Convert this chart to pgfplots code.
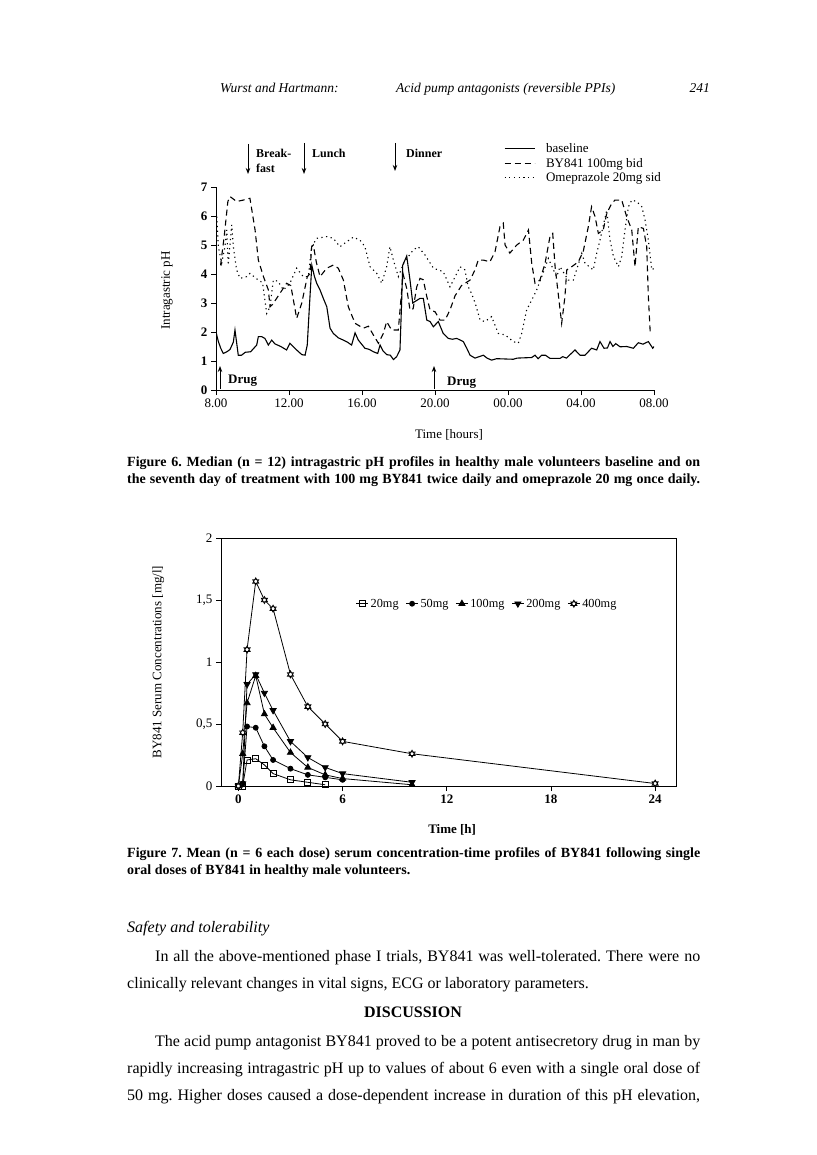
\documentclass[border=0pt]{standalone}
\usepackage{fontspec}
\setmainfont{Liberation Serif}
\usepackage{pgfplots}
\pgfplotsset{compat=1.18}
\usetikzlibrary{arrows.meta}
\frenchspacing

\pgfdeclareplotmark{hexagram}{%
  \pgfpathmoveto{\pgfqpointpolar{90}{\pgfplotmarksize}}%
  \pgfpathlineto{\pgfqpointpolar{210}{\pgfplotmarksize}}%
  \pgfpathlineto{\pgfqpointpolar{330}{\pgfplotmarksize}}%
  \pgfpathclose
  \pgfpathmoveto{\pgfqpointpolar{270}{\pgfplotmarksize}}%
  \pgfpathlineto{\pgfqpointpolar{30}{\pgfplotmarksize}}%
  \pgfpathlineto{\pgfqpointpolar{150}{\pgfplotmarksize}}%
  \pgfpathclose
  \pgfusepathqfillstroke}

\pgfplotstableread{
x y
8.0 2.0
8.13 1.67
8.26 1.44
8.4 1.26
8.6 1.32
8.77 1.4
8.95 1.65
9.04 2.07
9.22 1.2
9.4 1.2
9.6 1.3
9.9 1.32
10.23 1.55
10.32 1.84
10.5 1.84
10.68 1.78
10.87 1.55
11.05 1.72
11.23 1.59
11.55 1.5
11.87 1.38
12.05 1.61
12.42 1.38
12.7 1.22
12.88 1.2
13.0 1.55
13.12 2.9
13.25 4.3
13.4 3.9
13.52 3.68
13.7 3.45
13.88 3.16
14.07 2.87
14.25 2.13
14.43 1.95
14.7 1.8
14.98 1.72
15.2 1.65
15.43 1.55
15.62 1.97
15.8 1.72
16.16 1.44
16.4 1.4
16.62 1.32
16.86 1.26
16.99 1.55
17.15 1.35
17.35 1.22
17.55 1.2
17.72 1.05
17.9 1.15
18.08 1.38
18.17 3.0
18.23 4.3
18.45 4.62
18.63 3.79
18.78 3.0
18.9 3.05
19.18 3.16
19.36 3.16
19.55 2.41
19.73 2.36
19.91 2.18
20.18 2.36
20.45 1.95
20.73 1.78
20.95 1.75
21.19 1.78
21.55 1.67
21.74 1.44
21.92 1.2
22.19 1.1
22.65 1.2
22.85 1.1
23.1 1.03
23.38 1.08
24.29 1.06
24.5 1.1
25.3 1.12
25.48 1.2
25.65 1.08
25.85 1.2
26.05 1.2
26.3 1.09
26.85 1.09
27.0 1.15
27.2 1.1
27.67 1.38
27.95 1.2
28.22 1.2
28.58 1.44
28.86 1.38
29.04 1.67
29.26 1.44
29.45 1.45
29.59 1.67
29.75 1.5
29.9 1.6
30.14 1.49
30.5 1.5
30.87 1.44
31.14 1.63
31.4 1.58
31.69 1.67
31.93 1.44
32.0 1.5
}\baseline

\pgfplotstableread{
x y
8.25 4.3
8.45 5.3
8.65 6.5
8.77 6.67
9.13 6.5
9.5 6.55
9.86 6.61
10.14 5.52
10.32 4.48
10.6 3.91
10.87 3.45
10.96 2.87
11.1 2.95
11.5 3.33
11.87 3.68
12.1 3.6
12.42 2.47
12.7 3.0
13.0 3.9
13.15 4.02
13.24 4.94
13.33 5.0
13.5 4.4
13.7 3.91
14.07 4.2
14.43 4.31
14.7 4.2
14.98 3.79
15.25 2.87
15.62 2.3
16.07 2.13
16.35 2.2
16.62 1.9
16.9 1.61
17.17 1.95
17.35 2.36
17.62 2.07
17.99 2.07
18.25 4.0
18.45 3.5
18.63 2.76
18.8 2.8
19.0 3.56
19.18 3.85
19.36 3.8
19.55 3.22
19.73 2.76
20.0 2.7
20.27 2.41
20.55 2.41
20.82 2.76
21.1 3.25
21.45 3.6
21.92 3.79
22.19 4.14
22.37 4.48
22.65 4.48
23.01 4.42
23.29 4.77
23.56 5.63
23.74 5.75
23.84 5.0
24.1 4.72
24.48 5.0
24.84 5.17
25.12 5.52
25.3 4.37
25.48 3.68
25.75 3.79
26.03 4.37
26.3 5.29
26.45 5.4
26.58 4.25
26.77 3.22
26.94 2.3
27.12 3.22
27.22 4.14
27.49 4.25
27.85 4.42
28.12 4.77
28.4 5.63
28.58 6.32
28.77 5.98
28.95 5.4
29.22 5.52
29.41 6.09
29.68 6.43
29.86 6.55
30.23 6.55
30.5 5.98
30.78 5.52
30.96 4.25
31.14 5.63
31.42 5.57
31.6 4.94
31.69 3.22
31.8 1.9
}\byeight

\pgfplotstableread{
x y
8.04 5.98
8.13 4.94
8.31 4.37
8.49 4.94
8.59 5.52
8.67 4.31
8.86 5.69
8.95 4.94
9.13 4.14
9.32 3.85
9.68 3.91
9.86 4.02
10.32 3.79
10.55 3.7
10.78 2.64
10.96 2.87
11.14 3.79
11.4 3.75
11.69 3.45
12.05 3.68
12.42 4.2
12.78 3.91
13.06 3.91
13.24 4.94
13.52 5.23
14.07 5.29
14.43 5.23
14.79 4.94
15.16 5.11
15.52 5.27
15.89 5.17
16.16 4.94
16.44 4.25
16.81 4.02
17.08 3.68
17.35 4.25
17.53 4.94
17.72 4.48
17.99 3.91
18.3 4.4
18.81 4.83
19.08 4.94
19.45 4.66
19.91 4.2
20.45 4.08
20.82 3.56
21.1 3.9
21.37 4.25
21.64 4.14
21.82 3.56
22.0 3.33
22.2 3.0
22.47 2.41
22.74 2.36
23.1 2.53
23.47 1.95
23.84 1.9
24.29 1.67
24.56 1.61
24.75 1.95
25.02 2.76
25.3 3.1
25.57 3.45
25.85 3.91
26.21 4.54
26.49 4.14
26.67 3.91
26.85 4.25
27.3 3.79
27.58 3.79
28.04 4.71
28.22 4.37
28.67 4.14
28.86 4.71
29.04 5.17
29.41 6.2
29.59 5.17
29.78 4.6
30.05 4.25
30.23 4.6
30.41 5.52
30.6 6.32
30.78 6.55
31.05 6.5
31.33 6.32
31.51 5.86
31.69 5.17
31.88 4.14
32.0 4.2
}\omep

\pgfplotstableread{
t c
0 0
0.25 0
0.5 0.21
1 0.22
1.5 0.17
2 0.1
3 0.05
4 0.03
5 0.01
}\dA
\pgfplotstableread{
t c
0 0
0.25 0.02
0.5 0.48
1 0.47
1.5 0.32
2 0.21
3 0.14
4 0.09
5 0.07
6 0.05
}\dB
\pgfplotstableread{
t c
0 0
0.25 0.26
0.5 0.67
1 0.89
1.5 0.58
2 0.47
3 0.27
4 0.15
5 0.09
6 0.06
10 0.01
}\dC
\pgfplotstableread{
t c
0 0
0.25 0.02
0.5 0.82
1 0.9
1.5 0.75
2 0.61
3 0.36
4 0.23
5 0.15
6 0.1
10 0.03
}\dD
\pgfplotstableread{
t c
0 0
0.25 0.43
0.5 1.1
1 1.65
1.5 1.5
2 1.43
3 0.9
4 0.64
5 0.5
6 0.36
10 0.26
24 0.02
}\dE

\newcommand{\fs}[1]{\fontsize{#1}{#1}\selectfont}

\begin{document}
\begin{tikzpicture}
\fill[white] (0pt,0pt) rectangle (816pt,-1155pt);
\path[use as bounding box] (0pt,0pt) rectangle (816pt,-1155pt);

% running head
\node[anchor=base west, inner sep=0pt, font=\fs{13.5}\itshape] at (220pt,-93pt) {Wurst and Hartmann:};
\node[anchor=base west, inner sep=0pt, font=\fs{13.5}\itshape] at (396pt,-93pt) {Acid pump antagonists (reversible PPIs)};
\node[anchor=base east, inner sep=0pt, font=\fs{13.5}\itshape] at (710pt,-93pt) {241};

% ---------------- Figure 6 ----------------
\begin{axis}[
  at={(216pt,-390pt)}, anchor=south west,
  scale only axis, width=438pt, height=203pt,
  xmin=8, xmax=32, ymin=0, ymax=7,
  axis lines*=left,
  axis line style={line width=1pt},
  xtick={8,12,16,20,24,28,32},
  xticklabels={8.00,12.00,16.00,20.00,00.00,04.00,08.00},
  ytick={0,1,2,3,4,5,6,7},
  tick align=outside, major tick length=5pt,
  tick style={line width=0.8pt, black},
  /pgf/number format/assume math mode=true,
  xticklabel style={font=\fs{13}},
  yticklabel style={font=\fs{13}\bfseries},
  xlabel={Time [hours]},
  xlabel style={at={(axis description cs:0.532,-0.222)}, anchor=center, font=\fs{13}},
  ylabel={Intragastric pH},
  ylabel style={at={(axis description cs:-0.112,0.49)}, anchor=center, font=\fs{13}},
  legend style={at={(0.657,1.225)}, anchor=north west, draw=none, fill=none,
    font=\fs{13}, row sep=0pt, inner sep=0pt,
    /tikz/every odd column/.append style={column sep=9pt}},
  legend cell align=left,
  legend image code/.code={\draw[#1] (0pt,0pt) -- (30pt,0pt);},
]
\addplot[black, line width=1.1pt] table[x=x,y=y] {\baseline};
\addlegendentry{baseline}
\addplot[black, line width=1.1pt, dash pattern=on 6pt off 4pt] table[x=x,y=y] {\byeight};
\addlegendentry{BY841 100mg bid}
\addplot[black, line width=1.1pt, dash pattern=on 1.2pt off 3.5pt] table[x=x,y=y] {\omep};
\addlegendentry{Omeprazole 20mg sid}
\end{axis}

% meals
\draw[line width=0.9pt, -{Stealth[length=6pt,width=4.5pt]}] (248pt,-144pt) -- (248pt,-174pt);
\draw[line width=0.9pt, -{Stealth[length=6pt,width=4.5pt]}] (304pt,-143pt) -- (304pt,-174pt);
\draw[line width=0.9pt, -{Stealth[length=6pt,width=4.5pt]}] (395pt,-143pt) -- (395pt,-171pt);
\node[anchor=base west, inner sep=0pt, font=\fs{12}\bfseries] at (256pt,-158pt) {Break-};
\node[anchor=base west, inner sep=0pt, font=\fs{12}\bfseries] at (256pt,-173pt) {fast};
\node[anchor=base west, inner sep=0pt, font=\fs{12}\bfseries] at (312pt,-158pt) {Lunch};
\node[anchor=base west, inner sep=0pt, font=\fs{12}\bfseries] at (406pt,-158pt) {Dinner};
% drug
\draw[line width=0.9pt, -{Stealth[length=6pt,width=4.5pt]}] (220pt,-389pt) -- (220pt,-366pt);
\draw[line width=0.9pt, -{Stealth[length=6pt,width=4.5pt]}] (434pt,-389pt) -- (434pt,-366pt);
\node[anchor=base west, inner sep=0pt, font=\fs{13}\bfseries] at (228pt,-383pt) {Drug};
\node[anchor=base west, inner sep=0pt, font=\fs{13}\bfseries] at (447pt,-385pt) {Drug};

% caption 6
\node[anchor=base west, inner sep=0pt, font=\fs{14}\bfseries] at (127pt,-466pt)
  {\makebox[573pt][s]{Figure 6. Median (n = 12) intragastric pH profiles in healthy male volunteers baseline and on}};
\node[anchor=base west, inner sep=0pt, font=\fs{14}\bfseries] at (127pt,-483pt)
  {\makebox[573pt][s]{the seventh day of treatment with 100 mg BY841 twice daily and omeprazole 20 mg once daily.}};

% ---------------- Figure 7 ----------------
\begin{axis}[
  at={(221pt,-786pt)}, anchor=south west,
  scale only axis, width=455pt, height=248pt,
  xmin=-1, xmax=25.2, ymin=0, ymax=2,
  axis line style={line width=0.9pt},
  xtick={0,6,12,18,24},
  ytick={0,0.5,1,1.5,2},
  yticklabels={0,{0,5},1,{1,5},2},
  xtick pos=bottom, ytick pos=left,
  tick align=outside, major tick length=5pt,
  tick style={line width=0.8pt, black},
  /pgf/number format/assume math mode=true,
  xticklabel style={font=\fs{13}\bfseries},
  yticklabel style={font=\fs{13}},
  xlabel={Time [h]},
  xlabel style={at={(axis description cs:0.508,-0.177)}, anchor=center, font=\fs{13}\bfseries},
  ylabel={BY841 Serum Concentrations [mg/l]},
  ylabel style={at={(axis description cs:-0.138,0.5)}, anchor=center, font=\fs{13}},
  legend columns=5,
  legend style={at={(0.296,0.735)}, anchor=west, draw=none, fill=none,
    font=\fs{12.3}, inner sep=0pt,
    /tikz/every even column/.append style={column sep=5pt}},
  legend image code/.code={\draw[#1, mark repeat=2, mark phase=2] plot coordinates {(0pt,0pt) (6pt,0pt) (12pt,0pt)};},
  every axis plot/.append style={black, line width=0.8pt},
]
\addplot[mark=square, mark size=3pt, mark options={fill=white, line width=0.8pt}] table[x=t,y=c] {\dA};
\addlegendentry{20mg}
\addplot[mark=*, mark size=2.5pt] table[x=t,y=c] {\dB};
\addlegendentry{50mg}
\addplot[mark=triangle*, mark size=3.5pt] table[x=t,y=c] {\dC};
\addlegendentry{100mg}
\addplot[mark=triangle*, mark size=3.5pt, mark options={rotate=180}] table[x=t,y=c] {\dD};
\addlegendentry{200mg}
\addplot[mark=hexagram, mark size=3.6pt, mark options={fill=white, line width=0.7pt}] table[x=t,y=c] {\dE};
\addlegendentry{400mg}
\end{axis}

% caption 7
\node[anchor=base west, inner sep=0pt, font=\fs{14}\bfseries] at (127pt,-857pt)
  {\makebox[573pt][s]{Figure 7. Mean (n = 6 each dose) serum concentration-time profiles of BY841 following single}};
\node[anchor=base west, inner sep=0pt, font=\fs{14}\bfseries] at (127pt,-874pt)
  {oral doses of BY841 in healthy male volunteers.};

% body text
\node[anchor=base west, inner sep=0pt, font=\fs{16}\itshape] at (127pt,-932pt) {Safety and tolerability};
\node[anchor=base west, inner sep=0pt, font=\fs{16}] at (155pt,-961pt)
  {\makebox[545pt][s]{In all the above-mentioned phase I trials, BY841 was well-tolerated. There were no}};
\node[anchor=base west, inner sep=0pt, font=\fs{16}] at (127pt,-988pt)
  {clinically relevant changes in vital signs, ECG or laboratory parameters.};
\node[anchor=base, inner sep=0pt, font=\fs{16}\bfseries] at (413pt,-1017pt) {DISCUSSION};
\node[anchor=base west, inner sep=0pt, font=\fs{16}] at (155pt,-1046pt)
  {\makebox[545pt][s]{The acid pump antagonist BY841 proved to be a potent antisecretory drug in man by}};
\node[anchor=base west, inner sep=0pt, font=\fs{16}] at (127pt,-1073pt)
  {\makebox[573pt][s]{rapidly increasing intragastric pH up to values of about 6 even with a single oral dose of}};
\node[anchor=base west, inner sep=0pt, font=\fs{16}] at (127pt,-1100pt)
  {\makebox[573pt][s]{50 mg. Higher doses caused a dose-dependent increase in duration of this pH elevation,}};
\end{tikzpicture}
\end{document}
